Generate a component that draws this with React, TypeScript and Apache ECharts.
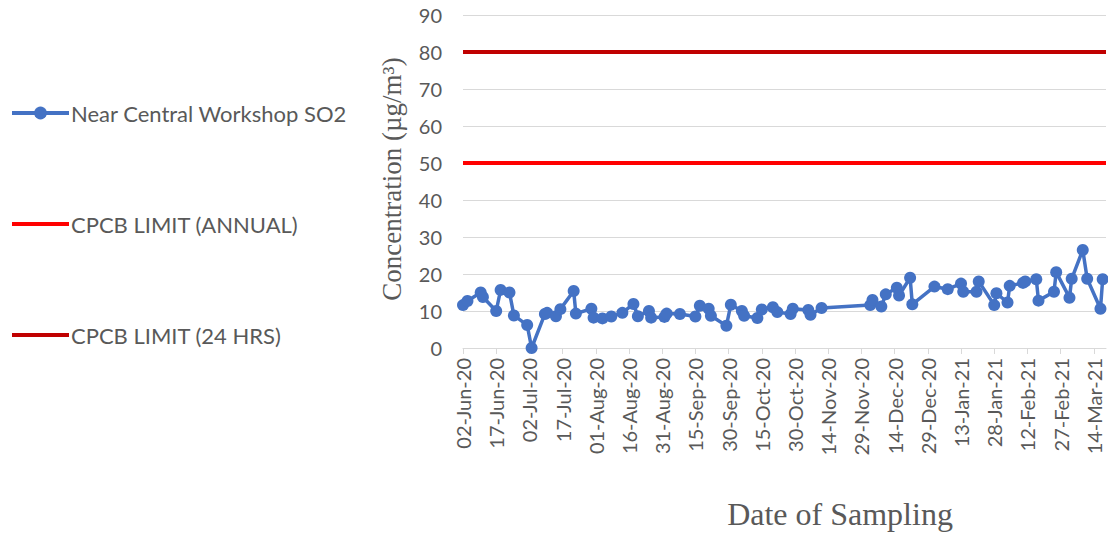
import React, { useEffect, useRef } from "react";
import * as echarts from "echarts";

// Sampling dates (ISO) and SO2 concentration (µg/m³)
const sampleDates: string[] = [
  "2020-06-02", "2020-06-04", "2020-06-10", "2020-06-11", "2020-06-17", "2020-06-19",
  "2020-06-23", "2020-06-25", "2020-07-01", "2020-07-03", "2020-07-09", "2020-07-10",
  "2020-07-14", "2020-07-16", "2020-07-22", "2020-07-23", "2020-07-30", "2020-07-31",
  "2020-08-04", "2020-08-08", "2020-08-13", "2020-08-18", "2020-08-20", "2020-08-25",
  "2020-08-26", "2020-09-01", "2020-09-02", "2020-09-08", "2020-09-15", "2020-09-17",
  "2020-09-21", "2020-09-22", "2020-09-29", "2020-10-01", "2020-10-06", "2020-10-07",
  "2020-10-13", "2020-10-15", "2020-10-20", "2020-10-22", "2020-10-28", "2020-10-29",
  "2020-11-05", "2020-11-06", "2020-11-11", "2020-12-03", "2020-12-04", "2020-12-08",
  "2020-12-10", "2020-12-15", "2020-12-16", "2020-12-21", "2020-12-22", "2021-01-01",
  "2021-01-07", "2021-01-13", "2021-01-14", "2021-01-20", "2021-01-21", "2021-01-28",
  "2021-01-29", "2021-02-03", "2021-02-04", "2021-02-10", "2021-02-11", "2021-02-16",
  "2021-02-17", "2021-02-24", "2021-02-25", "2021-03-03", "2021-03-04", "2021-03-09",
  "2021-03-11", "2021-03-17", "2021-03-18",
];
const so2Values: number[] = [
  11.6, 12.7, 15.0, 13.8, 10.0, 15.7,
  15.0, 8.8, 6.2, 0.0, 9.2, 9.5,
  8.6, 10.5, 15.4, 9.3, 10.6, 8.2,
  8.0, 8.5, 9.5, 11.9, 8.6, 10.0,
  8.2, 8.4, 9.3, 9.2, 8.5, 11.4,
  10.6, 8.7, 6.0, 11.7, 10.0, 8.7,
  8.1, 10.4, 11.0, 9.7, 9.2, 10.6,
  10.3, 9.0, 10.8, 11.6, 13.0, 11.2,
  14.5, 16.3, 14.2, 19.0, 11.8, 16.6,
  15.9, 17.4, 15.2, 15.2, 18.0, 11.6,
  14.8, 12.3, 16.8, 17.6, 18.0, 18.6,
  12.8, 15.2, 20.5, 13.6, 18.7, 26.5,
  18.7, 10.6, 18.6,
];

const seriesName = "Near Central Workshop SO2";
const annualLimitName = "CPCB LIMIT (ANNUAL)";
const dailyLimitName = "CPCB LIMIT (24 HRS)";
const annualLimit = 50;
const dailyLimit = 80;

const axisStartDate = "2020-06-02";
const axisEndDate = "2021-03-20";
const tickStepDays = 15;
const yTicks = { min: 0, max: 90, step: 10 };

const MONTHS = ["Jan", "Feb", "Mar", "Apr", "May", "Jun", "Jul", "Aug", "Sep", "Oct", "Nov", "Dec"];
const DAY = 86400000;
const toUtc = (s: string) => {
  const [y, m, d] = s.split("-").map(Number);
  return Date.UTC(y, m - 1, d);
};
const base = toUtc(axisStartDate);
const dayOffset = (s: string) => Math.round((toUtc(s) - base) / DAY);
const fmtDay = (off: number) => {
  const dt = new Date(base + off * DAY);
  const dd = String(dt.getUTCDate()).padStart(2, "0");
  const yy = String(dt.getUTCFullYear() % 100).padStart(2, "0");
  return `${dd}-${MONTHS[dt.getUTCMonth()]}-${yy}`;
};

export default function App() {
  const ref = useRef<HTMLDivElement>(null);
  useEffect(() => {
    if (!ref.current) return;
    const chart = echarts.init(ref.current, undefined, { renderer: "svg" });
    const maxDay = dayOffset(axisEndDate) - 0.5;
    const so2Data = sampleDates.map((d, i) => [dayOffset(d), so2Values[i]]);
    const sans = "Lato, 'Open Sans', sans-serif";
    const serif = "'Liberation Serif', 'DejaVu Serif', serif";
    chart.setOption({
      animation: false,
      backgroundColor: "#ffffff",
      grid: { left: 463, right: 2, top: 15, bottom: 188, containLabel: false },
      legend: {
        orient: "vertical",
        left: 5,
        top: 97,
        itemWidth: 57,
        itemHeight: 16,
        itemGap: 89,
        lineStyle: { width: 4 },
        textStyle: { color: "#595959", fontSize: 22, fontFamily: sans, padding: [0, 0, 0, -3] },
        data: [
          { name: seriesName },
          { name: annualLimitName, itemStyle: { opacity: 0 } },
          { name: dailyLimitName, itemStyle: { opacity: 0 } },
        ],
      },
      xAxis: {
        type: "value",
        min: 0,
        max: maxDay,
        interval: tickStepDays,
        axisLine: { show: true, lineStyle: { color: "#D9D9D9", width: 1 } },
        axisTick: { show: true, length: 6, lineStyle: { color: "#D9D9D9" } },
        splitLine: { show: false },
        axisLabel: {
          rotate: 90,
          margin: 10,
          color: "#595959",
          fontSize: 20,
          fontFamily: sans,
          showMaxLabel: false,
          formatter: (v: number) => (v % tickStepDays === 0 ? fmtDay(v) : ""),
        },
      },
      yAxis: {
        type: "value",
        min: yTicks.min,
        max: yTicks.max,
        interval: yTicks.step,
        axisLine: { show: false },
        axisTick: { show: false },
        splitLine: { show: true, lineStyle: { color: "#D9D9D9", width: 1 } },
        axisLabel: { color: "#595959", fontSize: 20, fontFamily: sans, margin: 21 },
      },
      graphic: [
        {
          type: "text",
          x: 392,
          y: 179,
          rotation: Math.PI / 2,
          style: {
            text: "Concentration (µg/m³)",
            fill: "#595959",
            font: `27px ${serif}`,
            align: "center",
            verticalAlign: "middle",
          },
        },
        {
          type: "text",
          x: 840,
          y: 514,
          style: {
            text: "Date of Sampling",
            fill: "#595959",
            font: `32px ${serif}`,
            align: "center",
            verticalAlign: "middle",
          },
        },
      ],
      series: [
        {
          name: seriesName,
          type: "line",
          data: so2Data,
          color: "#4472C4",
          symbol: "circle",
          symbolSize: 12,
          lineStyle: { width: 3.5, color: "#4472C4" },
          itemStyle: { color: "#4472C4" },
          z: 5,
        },
        {
          name: annualLimitName,
          type: "line",
          data: [[0, annualLimit], [maxDay, annualLimit]],
          color: "#FF0000",
          symbol: "none",
          lineStyle: { width: 4, color: "#FF0000" },
        },
        {
          name: dailyLimitName,
          type: "line",
          data: [[0, dailyLimit], [maxDay, dailyLimit]],
          color: "#C00000",
          symbol: "none",
          lineStyle: { width: 4, color: "#C00000" },
        },
      ],
    });
    return () => chart.dispose();
  }, []);
  return (
    <div
      ref={ref}
      style={{ position: "fixed", left: 0, top: 0, width: 1108, height: 536 }}
    />
  );
}
